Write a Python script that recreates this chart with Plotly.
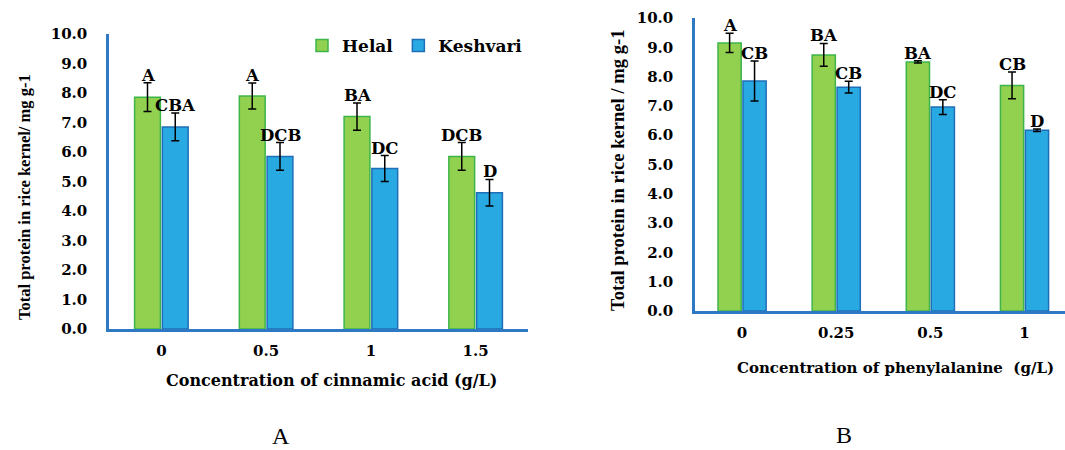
import plotly.graph_objects as go

# ---------------- data ----------------
cats_a = ["0", "0.5", "1", "1.5"]
helal_a = [7.86, 7.90, 7.20, 5.85]
helal_a_err = [0.49, 0.44, 0.46, 0.47]
kesh_a = [6.85, 5.85, 5.44, 4.62]
kesh_a_err = [0.47, 0.47, 0.44, 0.45]
helal_a_letters = ["A", "A", "BA", "DCB"]
kesh_a_letters = ["CBA", "DCB", "DC", "D"]

cats_b = ["0", "0.25", "0.5", "1"]
helal_b = [9.15, 8.74, 8.50, 7.70]
helal_b_err = [0.33, 0.39, 0.04, 0.46]
kesh_b = [7.85, 7.64, 6.96, 6.17]
kesh_b_err = [0.68, 0.20, 0.25, 0.04]
helal_b_letters = ["A", "BA", "BA", "CB"]
kesh_b_letters = ["CB", "CB", "DC", "D"]

y_ticks = [0, 1, 2, 3, 4, 5, 6, 7, 8, 9, 10]

# ---------------- style ----------------
W, H = 1065, 450
GREEN = "#92D050"
GREEN_LINE = "#3DB54A"
BLUE = "#29A9E1"
BLUE_LINE = "#1F6FB8"
AXIS = "#2F78C4"
BARGAP = 0.47
SERIF_B = "DejaVu Serif"
TIMES = "Liberation Serif"

fig = go.Figure()


def add_pair(xa, ya, cats, h, he, k, ke, legend):
    fig.add_trace(go.Bar(
        x=cats, y=h, name="Helal", xaxis=xa, yaxis=ya,
        marker=dict(color=GREEN, line=dict(color=GREEN_LINE, width=1.5)),
        error_y=dict(type="data", array=he, color="black", thickness=1.5, width=4),
        showlegend=legend, legendgroup="h"))
    fig.add_trace(go.Bar(
        x=cats, y=k, name="Keshvari", xaxis=xa, yaxis=ya,
        marker=dict(color=BLUE, line=dict(color=BLUE_LINE, width=1.5)),
        error_y=dict(type="data", array=ke, color="black", thickness=1.5, width=4),
        showlegend=legend, legendgroup="k"))


add_pair("x", "y", cats_a, helal_a, helal_a_err, kesh_a, kesh_a_err, True)
add_pair("x2", "y2", cats_b, helal_b, helal_b_err, kesh_b, kesh_b_err, False)

tickfont = dict(family=SERIF_B, size=15, color="black", weight="bold")

common_x = dict(type="category", showline=True, linecolor=AXIS, linewidth=2.5,
                ticks="", showgrid=False, zeroline=False, tickfont=tickfont,
                ticklabelstandoff=6, fixedrange=True, automargin=False)
common_y = dict(range=[0, 10], tickvals=y_ticks, tickformat=".1f",
                showline=True, linecolor=AXIS, linewidth=2.5, ticks="",
                showgrid=False, zeroline=False, tickfont=tickfont,
                ticklabelstandoff=16, fixedrange=True, automargin=False)

fig.update_layout(
    width=W, height=H, autosize=False,
    margin=dict(l=0, r=0, t=0, b=0, pad=0, autoexpand=False),
    paper_bgcolor="white", plot_bgcolor="white",
    barmode="group", bargap=BARGAP, bargroupgap=0.07,
    xaxis=dict(common_x, domain=[109 / W, 528 / W], range=[-0.5, 3.5], anchor="y"),
    yaxis=dict(common_y, domain=[1 - 329 / H, 1 - 34 / H], anchor="x"),
    xaxis2=dict(common_x, domain=[695 / W, 1.0], range=[-0.5, 3.43], anchor="y2"),
    yaxis2=dict(common_y, domain=[1 - 311 / H, 1 - 18 / H], anchor="x2"),
    legend=dict(orientation="h", x=302 / W, y=1 - 28 / H, xanchor="left", yanchor="top",
                bgcolor="rgba(0,0,0,0)", font=dict(family=SERIF_B, size=17, color="black", weight="bold"),
                itemwidth=30, tracegroupgap=0),
    showlegend=True,
)

# significance letters above the error bars
off = (1 - BARGAP) / 4
letter_font = dict(family=SERIF_B, size=16.5, color="black", weight="bold")


def add_letters(xa, ya, vals, errs, letters, sign):
    for i, (v, e, t) in enumerate(zip(vals, errs, letters)):
        fig.add_annotation(x=i + sign * off, y=v + e, xref=xa, yref=ya, text=t,
                           showarrow=False, xanchor="center", yanchor="bottom", yshift=-4,
                           font=letter_font)


add_letters("x", "y", helal_a, helal_a_err, helal_a_letters, -1)
add_letters("x", "y", kesh_a, kesh_a_err, kesh_a_letters, +1)
add_letters("x2", "y2", helal_b, helal_b_err, helal_b_letters, -1)
add_letters("x2", "y2", kesh_b, kesh_b_err, kesh_b_letters, +1)


def paper_text(x, y, text, font, angle=0):
    fig.add_annotation(x=x / W, y=1 - y / H, xref="paper", yref="paper", text=text,
                       textangle=angle, showarrow=False, xanchor="center",
                       yanchor="middle", font=font, borderpad=0)


# axis titles
paper_text(24, 197, "Total protein in rice kernel/ mg g-1",
           dict(family=TIMES, size=16.5, color="black", weight="bold"), -90)
paper_text(617, 171, "Total protein in rice kernel / mg g-1",
           dict(family=TIMES, size=18.6, color="black", weight="bold"), -90)
paper_text(331, 380, "Concentration of cinnamic acid (g/L)",
           dict(family=SERIF_B, size=16, color="black", weight="bold"))
paper_text(895, 368, "Concentration of phenylalanine  (g/L)",
           dict(family=SERIF_B, size=15, color="black", weight="bold"))

# panel labels
paper_text(281, 436, "A", dict(family=TIMES, size=24, color="black"))
paper_text(844, 435, "B", dict(family=TIMES, size=24, color="black"))

fig.write_html(
    "out.html",
    config={"displayModeBar": False},
    post_script="document.body.style.margin='0';document.body.style.overflow='hidden';",
)
